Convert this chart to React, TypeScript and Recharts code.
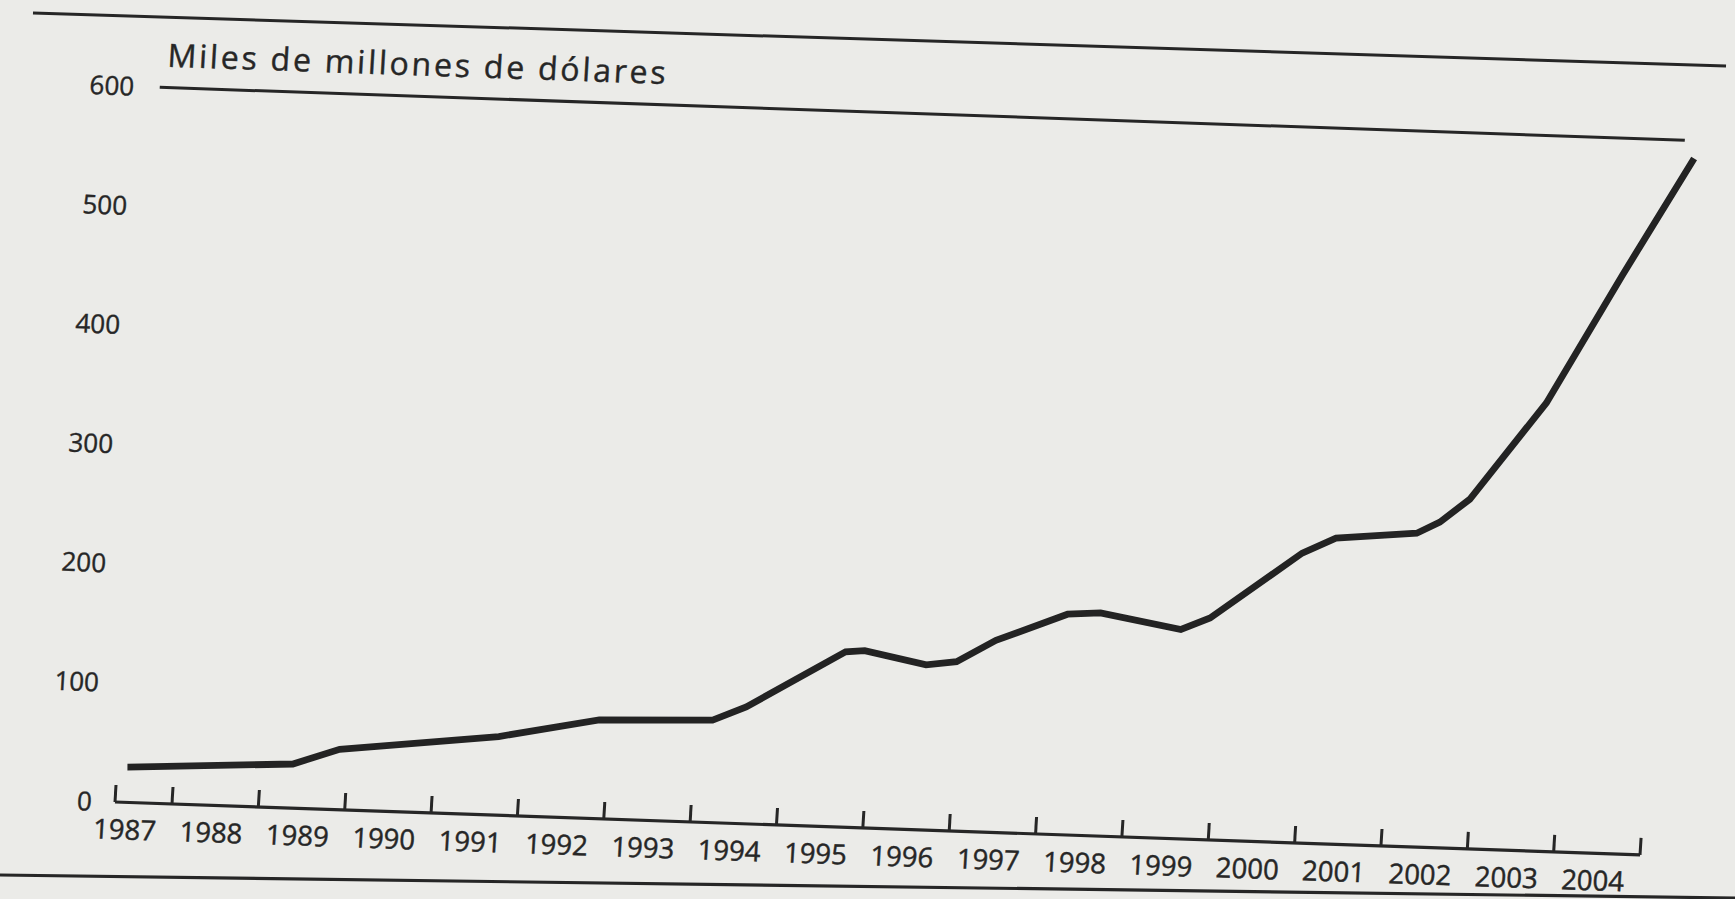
import React from 'react';
import { LineChart, Line, XAxis, YAxis, ReferenceLine } from 'recharts';

// ---- data ----
const yearLabels = ['1987', '1988', '1989', '1990', '1991', '1992', '1993', '1994', '1995', '1996', '1997', '1998', '1999', '2000', '2001', '2002', '2003', '2004'];
// time position (years) of each vertex of the drawn line
const lineTimes = [1987.46, 1989.37, 1989.9, 1991.73, 1992.88, 1994.19, 1994.57, 1995.68, 1995.9, 1996.62, 1996.97, 1997.41, 1998.22, 1998.6, 1999.54, 1999.87, 2000.89, 2001.27, 2002.2, 2002.46, 2002.79, 2003.61, 2004.4, 2005.15];
// value (miles de millones de dólares) of each vertex
const lineValues = [29.5, 37, 50.7, 66, 82.8, 86, 98, 147, 148.6, 138.5, 142, 161, 185, 187, 175.5, 186, 243, 256.5, 263, 273, 293, 376, 485, 585];
const yTicks = [0, 100, 200, 300, 400, 500, 600];
const axisStart = 1987.34;
const axisEnd = 2005;
const plotEnd = 2005.15;
const tickBoundaries = [axisStart, 1988, 1989, 1990, 1991, 1992, 1993, 1994, 1995, 1996, 1997, 1998, 1999, 2000, 2001, 2002, 2003, 2004, axisEnd];
const labelOffset = 0.47;
const titleText = 'Miles de millones de dólares';

const data = lineTimes.map((t, i) => ({ t, v: lineValues[i] }));
const labelPositions = yearLabels.map((y) => Number(y) + labelOffset);
const xTicks = [...tickBoundaries, ...labelPositions].sort((a, b) => a - b);

const INK = '#262626';
const FONT = "'Open Sans', 'DejaVu Sans', sans-serif";

const XTick = (props: any) => {
  const { x, y, payload } = props;
  const v = payload.value;
  const idx = labelPositions.findIndex((p) => Math.abs(p - v) < 1e-6);
  if (idx >= 0) {
    return (
      <text
        x={x}
        y={y + 37}
        textAnchor="middle"
        fontSize={27.5}
        fontFamily={FONT}
        fill={INK}
        stroke={INK}
        strokeWidth={0.45}
      >
        {yearLabels[idx]}
      </text>
    );
  }
  return <line x1={x} x2={x} y1={y} y2={y - 17} stroke={INK} strokeWidth={3} />;
};

export default function App() {
  return (
    <div
      style={{
        position: 'fixed',
        left: 0,
        top: 0,
        width: 1735,
        height: 899,
        overflow: 'hidden',
        background: '#ebebe8',
        fontFamily: FONT,
      }}
    >
      {/* page rules */}
      <svg width={1735} height={899} style={{ position: 'absolute', left: 0, top: 0 }}>
        <line x1={33} y1={13} x2={1726} y2={66} stroke={INK} strokeWidth={3} />
        <line x1={0} y1={875} x2={1735} y2={898} stroke={INK} strokeWidth={3.2} />
      </svg>
      <div
        style={{
          position: 'absolute',
          left: 0,
          top: 0,
          width: 1735,
          height: 899,
          transformOrigin: '115px 802px',
          transform: 'matrix(1, 0.0347, -0.059, 1, 0, 0)',
        }}
      >
        <svg width={1735} height={899} style={{ position: 'absolute', left: 0, top: 0, overflow: 'visible' }}>
          <text
            x={123.6}
            y={66.4}
            fontSize={32}
            fontFamily={FONT}
            fill={INK}
            stroke={INK}
            strokeWidth={0.4}
            textLength={498}
            lengthAdjust="spacing"
          >
            {titleText}
          </text>
        </svg>
        <div style={{ position: 'absolute', left: 0, top: 0 }}>
          <LineChart
            width={1735}
            height={899}
            data={data}
            margin={{ top: 87.2, right: 82, bottom: 37, left: 15 }}
          >
            <XAxis
              dataKey="t"
              type="number"
              domain={[axisStart, plotEnd]}
              ticks={xTicks}
              interval={0}
              height={60}
              tickSize={0}
              tickMargin={0}
              tickLine={false}
              axisLine={false}
              tick={<XTick />}
            />
            <YAxis
              type="number"
              domain={[0, 600]}
              ticks={yTicks}
              width={100}
              tickSize={0}
              tickMargin={23}
              tickLine={false}
              axisLine={false}
              tick={{ fontSize: 26, fontFamily: FONT, fill: INK, stroke: INK, strokeWidth: 0.4 }}
            />
            <ReferenceLine
              segment={[{ x: axisStart, y: 0 }, { x: axisEnd, y: 0 }]}
              stroke={INK}
              strokeWidth={3.2}
            />
            <ReferenceLine
              segment={[{ x: axisStart + 0.03, y: 600 }, { x: axisEnd + 0.03, y: 600 }]}
              stroke={INK}
              strokeWidth={3}
            />
            <Line
              type="linear"
              dataKey="v"
              stroke="#232323"
              strokeWidth={6.8}
              dot={false}
              activeDot={false}
              isAnimationActive={false}
            />
          </LineChart>
        </div>
      </div>
    </div>
  );
}
